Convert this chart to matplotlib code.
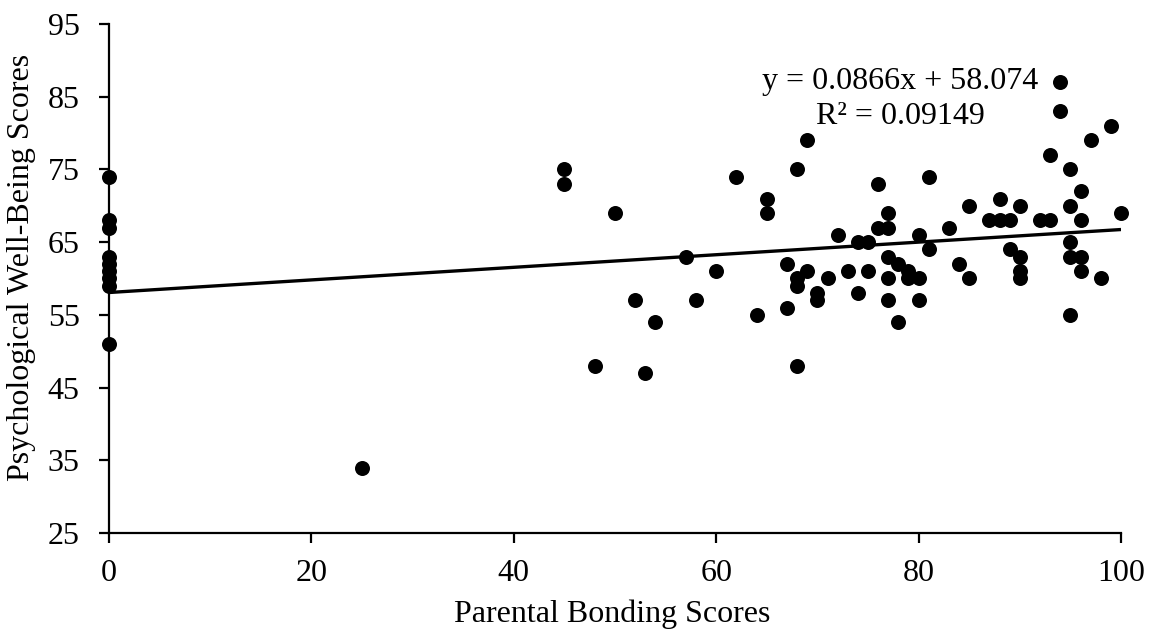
import numpy as np
import matplotlib
matplotlib.use("Agg")
from matplotlib import pyplot as plt

# Parental bonding (x) vs psychological well-being (y)
pb_scores = [0, 0, 0, 0, 0, 0, 0, 0, 0,
             25, 45, 45, 48, 50, 52, 53, 54, 57, 58, 60, 62, 64, 65, 65,
             67, 67, 68, 68, 68, 68, 69, 69, 70, 70, 71, 72, 73, 74, 74,
             75, 75, 76, 76, 77, 77, 77, 77, 77, 78, 78, 79, 79, 80, 80, 80,
             81, 81, 83, 84, 85, 85, 87, 88, 88, 89, 89, 90, 90, 90, 90,
             92, 93, 93, 94, 94, 95, 95, 95, 95, 95, 96, 96, 96, 96,
             97, 98, 99, 100]
pwb_scores = [74, 68, 67, 63, 62, 61, 60, 59, 51,
              34, 75, 73, 48, 69, 57, 47, 54, 63, 57, 61, 74, 55, 71, 69,
              62, 56, 75, 60, 59, 48, 79, 61, 58, 57, 60, 66, 61, 65, 58,
              65, 61, 73, 67, 69, 67, 63, 60, 57, 62, 54, 61, 60, 66, 60, 57,
              74, 64, 67, 62, 70, 60, 68, 71, 68, 68, 64, 70, 63, 61, 60,
              68, 77, 68, 87, 83, 75, 70, 65, 63, 55, 72, 68, 63, 61,
              79, 60, 81, 69]

# linear trendline
slope = 0.0866
intercept = 58.074
r_squared = 0.09149

x_ticks = [0, 20, 40, 60, 80, 100]
y_ticks = [25, 35, 45, 55, 65, 75, 85, 95]

plt.rcParams['font.family'] = ['Liberation Serif', 'DejaVu Serif']
fs = 23

fig = plt.figure(figsize=(11.49, 6.34), dpi=100)
ax = fig.add_axes([109 / 1149, 1 - 533 / 634, 1012 / 1149, 509 / 634])

ax.plot(pb_scores, pwb_scores, 'o', color='black', markersize=10.8,
        markeredgewidth=0, clip_on=False, zorder=3)

line_x = np.array([0, 100])
ax.plot(line_x, slope * line_x + intercept, color='black', lw=2.4,
        solid_capstyle='butt', zorder=2)

ax.text(78.2, 86.0, f"y = {slope}x + {intercept}", fontsize=fs,
        ha='center', va='baseline')
ax.text(78.2, 81.2, f"R² = {r_squared}", fontsize=fs,
        ha='center', va='baseline')

ax.set_xlim(0, 100)
ax.set_ylim(25, 95)
ax.set_xticks(x_ticks)
ax.set_yticks(y_ticks)
ax.tick_params(direction='out', length=7, width=1.6, labelsize=fs)
ax.tick_params(axis='y', pad=14)
ax.tick_params(axis='x', pad=12)
for side in ['top', 'right']:
    ax.spines[side].set_visible(False)
for side in ['left', 'bottom']:
    ax.spines[side].set_linewidth(1.6)

fig.text(612 / 1149, 1 - 614 / 634, "Parental Bonding Scores", fontsize=fs,
         ha='center', va='center')
fig.text(22 / 1149, 1 - 267 / 634, "Psychological Well-Being Scores",
         fontsize=fs, rotation=90, ha='center', va='center')

fig.savefig('out.png', dpi=100)
